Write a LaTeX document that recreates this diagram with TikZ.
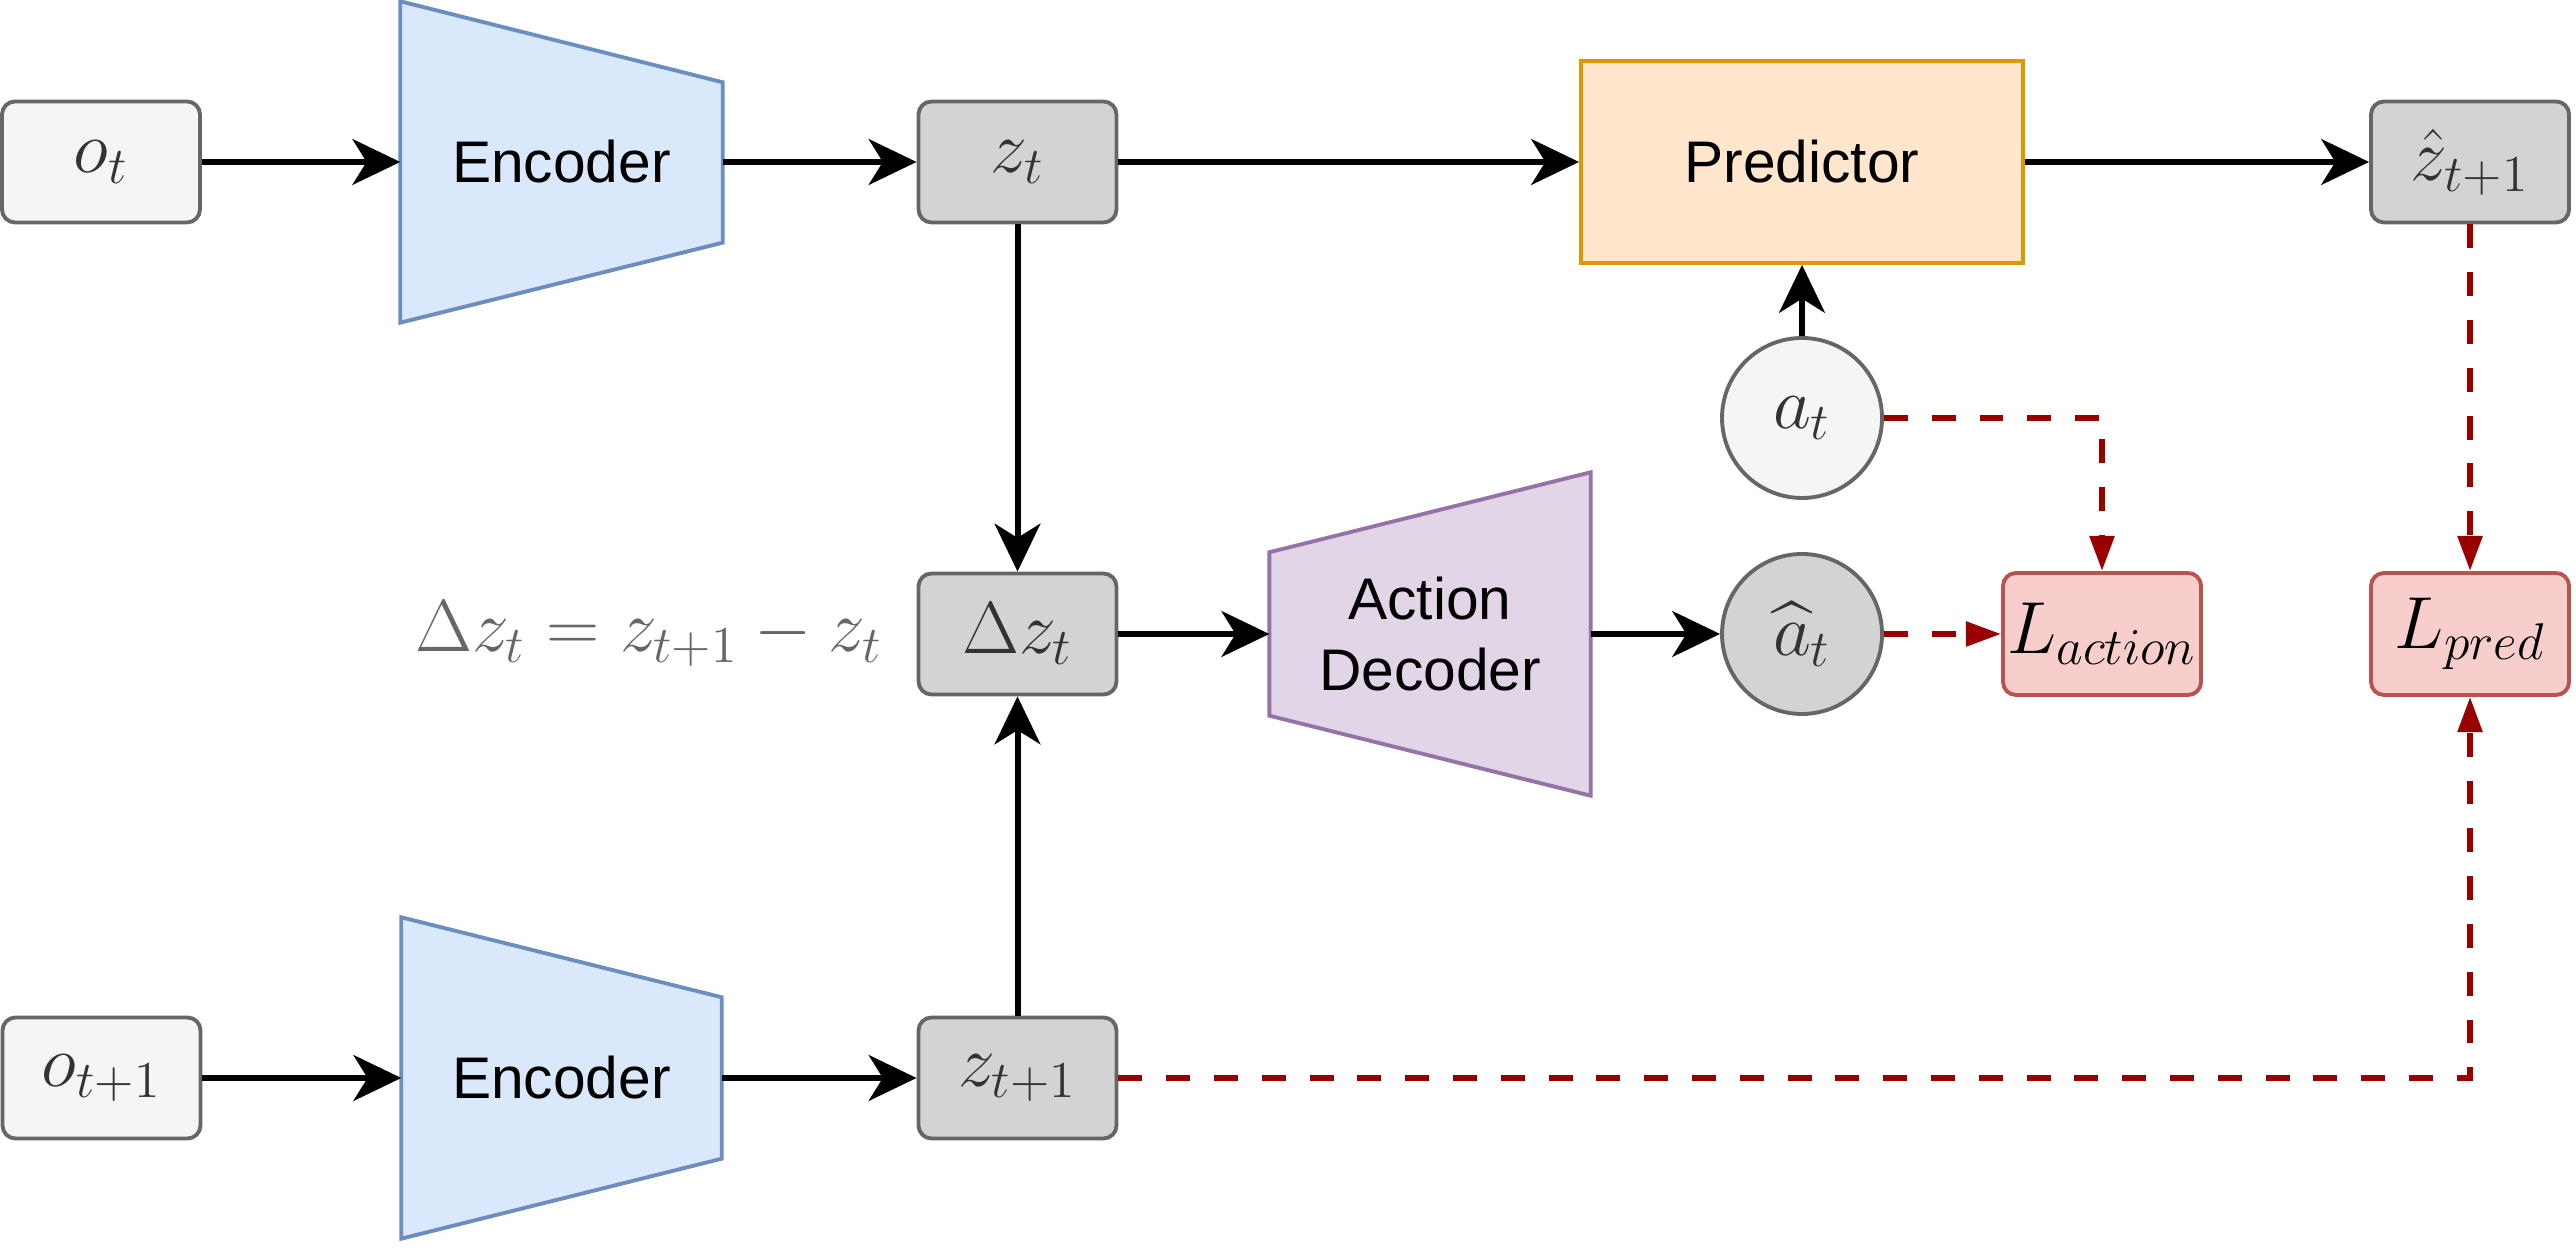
\RequirePackage{fix-cm}
\documentclass[tikz,border=0pt]{standalone}
\usepackage{amsmath, amssymb}
\usepackage[no-math]{fontspec}
\usepackage{xcolor}
\usepackage{tikz}
\usetikzlibrary{arrows.meta, positioning, calc, backgrounds}
\newfontfamily\blockfont{Liberation Sans}
\definecolor{edgegray}{HTML}{666666}
\definecolor{obsfill}{HTML}{F5F5F5}
\definecolor{latfill}{HTML}{D3D3D3}
\definecolor{encfill}{HTML}{DAE8FC}
\definecolor{encedge}{HTML}{6C8EBF}
\definecolor{predfill}{HTML}{FFE6CC}
\definecolor{prededge}{HTML}{D79B00}
\definecolor{decfill}{HTML}{E1D5E7}
\definecolor{decedge}{HTML}{9673A6}
\definecolor{lossfill}{HTML}{F8CECC}
\definecolor{lossedge}{HTML}{B85450}
\definecolor{lossred}{HTML}{990000}
\definecolor{mathtext}{HTML}{333333}
\newcommand{\mathsize}{\fontsize{21}{25}\selectfont}
\newcommand{\blocksize}{\blockfont\fontsize{16.7}{20}\selectfont}

\begin{document}
\begin{tikzpicture}[
    flow/.style={-{Stealth[length=13.6pt, width=13pt, inset=4pt]}, line width=1.7pt},
    lossflow/.style={-{Triangle[length=10pt, width=6.8pt]}, line width=1.7pt, draw=lossred, dash pattern=on 6.8pt off 6.8pt},
    obs/.style={draw=edgegray, fill=obsfill, rounded corners=3.7pt, line width=1.1pt, minimum width=1.98cm, minimum height=1.21cm, inner sep=0pt, font=\mathsize, text=mathtext},
    latent/.style={obs, fill=latfill},
    lossbox/.style={obs, draw=lossedge, fill=lossfill, text=black},
    action/.style={circle, draw=edgegray, line width=1.1pt, minimum size=1.6cm, inner sep=0pt, font=\mathsize, text=mathtext},
    block/.style={inner sep=0pt, font=\blocksize, align=center},
]
    \useasboundingbox (0,0) rectangle (25.76,12.48);

    % Top row
    \node[obs] (ot) at (1.01,10.86) {$o_t$};
    \node[block, minimum width=3.21cm, minimum height=3.20cm] (enc1) at (5.615,10.86) {Encoder};
    \node[latent] (zt) at (10.175,10.86) {$z_t$};
    \node[block, draw=prededge, fill=predfill, line width=1.1pt, minimum width=4.42cm, minimum height=2.02cm] (pred) at (18.02,10.86) {Predictor};
    \node[latent] (zhat) at (24.70,10.86) {$\hat{z}_{t+1}$};

    % Middle row
    \node[action, fill=obsfill] (at) at (18.02,8.30) {$a_t$};
    \node[latent] (dz) at (10.175,6.14) {$\Delta z_t$};
    \node[left=0.22cm of dz, font=\mathsize, text=edgegray] (dzdef) {$\Delta z_t = z_{t+1} - z_t$};
    \node[block, minimum width=3.20cm, minimum height=3.22cm] (dec) at (14.30,6.14) {Action\\Decoder};
    \node[action, fill=latfill] (ahat) at (18.02,6.14) {$\widehat{a}_t$};
    \node[lossbox, minimum height=1.22cm] (lact) at (21.02,6.14) {$L_{action}$};
    \node[lossbox, minimum height=1.22cm] (lpred) at (24.70,6.14) {$L_{pred}$};

    % Bottom row
    \node[obs] (ot1) at (1.015,1.70) {$o_{t+1}$};
    \node[block, minimum width=3.19cm, minimum height=3.20cm] (enc2) at (5.615,1.70) {Encoder};
    \node[latent] (zt1) at (10.175,1.70) {$z_{t+1}$};

    % Trapezoid outlines
    \begin{scope}[on background layer]
        \draw[draw=encedge, fill=encfill, line width=1.1pt] (enc1.north west) -- ([yshift=-0.81cm]enc1.north east)
            -- ([yshift=0.80cm]enc1.south east) -- (enc1.south west) -- cycle;
        \draw[draw=encedge, fill=encfill, line width=1.1pt] (enc2.north west) -- ([yshift=-0.80cm]enc2.north east)
            -- ([yshift=0.80cm]enc2.south east) -- (enc2.south west) -- cycle;
        \draw[draw=decedge, fill=decfill, line width=1.1pt] ([yshift=-0.80cm]dec.north west) -- (dec.north east)
            -- (dec.south east) -- ([yshift=0.80cm]dec.south west) -- cycle;
    \end{scope}

    % Forward connections
    \draw[flow] (ot) -- (enc1);
    \draw[flow] (enc1) -- (zt);
    \draw[flow] (zt) -- (pred);
    \draw[flow] (pred) -- (zhat);
    \draw[flow] (at) -- (pred);
    \draw[flow] (zt) -- (dz);
    \draw[flow] (ot1) -- (enc2);
    \draw[flow] (enc2) -- (zt1);
    \draw[flow] (zt1) -- (dz);
    \draw[flow] (dz) -- (dec);
    \draw[flow] (dec) -- (ahat);

    % Loss connections
    \draw[lossflow] (ahat) -- (lact);
    \draw[lossflow] (at.east) -| (lact.north);
    \draw[lossflow] (zhat) -- (lpred);
    \draw[lossflow] (zt1.east) -| (lpred.south);
\end{tikzpicture}
\end{document}
